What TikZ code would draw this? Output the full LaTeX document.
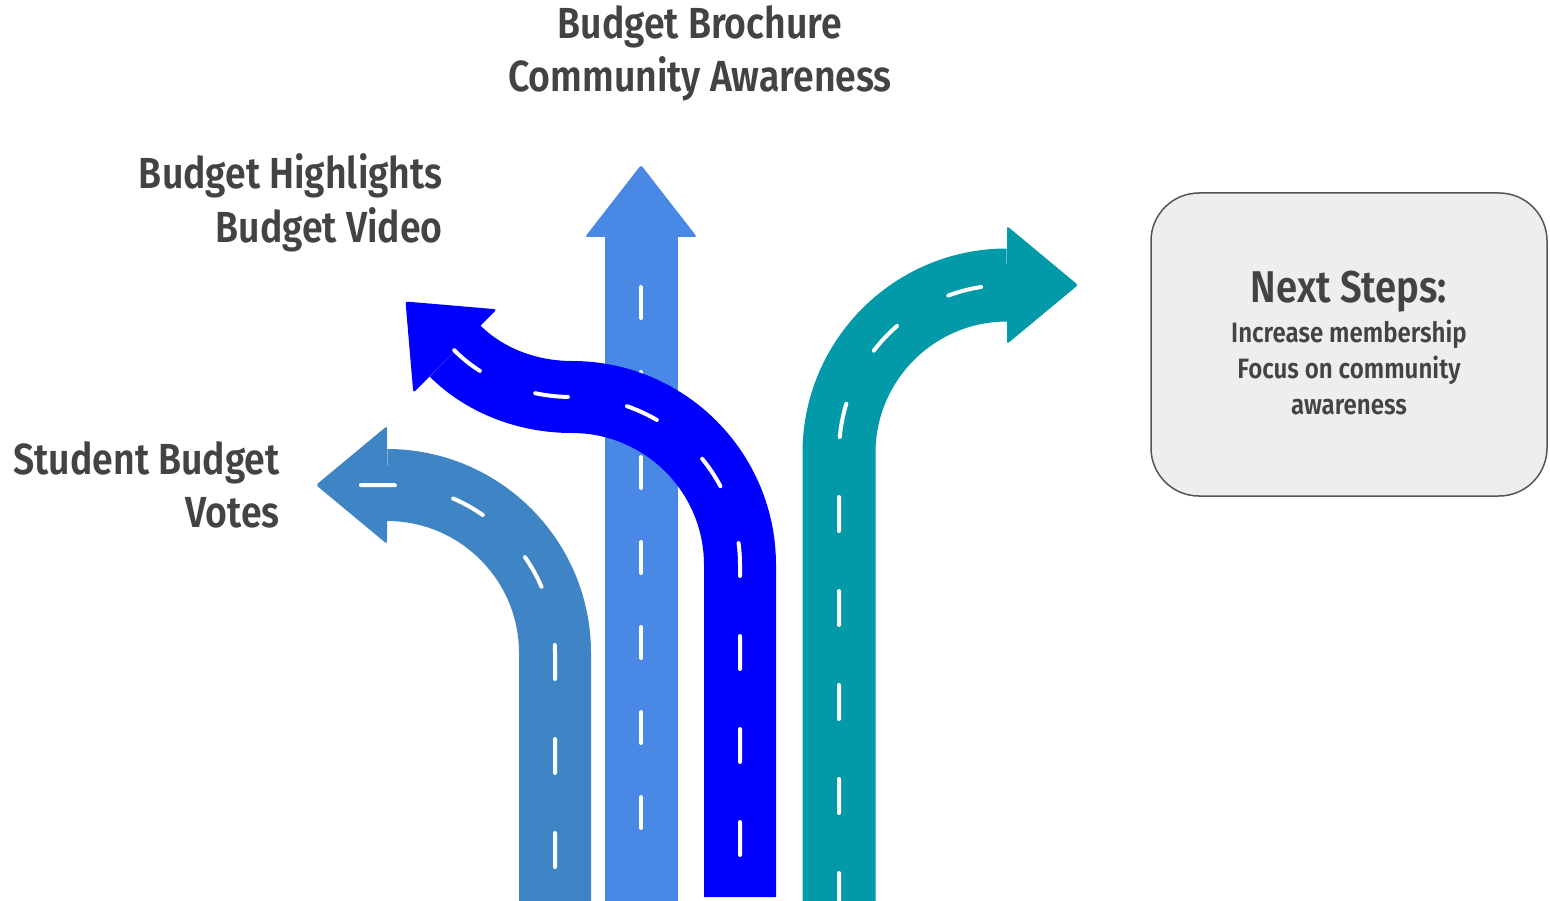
\documentclass[tikz,border=0pt]{standalone}
\usepackage{fontspec}
\setmainfont{Fira Sans}[FakeStretch=0.86,BoldFont={Fira Sans SemiBold}]
\definecolor{studentc}{RGB}{63,133,198}
\definecolor{brochc}{RGB}{74,136,229}
\definecolor{bluec}{RGB}{0,0,255}
\definecolor{tealc}{RGB}{2,153,168}
\definecolor{txtc}{RGB}{67,67,67}
\definecolor{boxfill}{RGB}{238,238,238}
\definecolor{boxline}{RGB}{85,85,85}
\begin{document}
\begin{tikzpicture}[x=1pt,y=-1pt,
  road/.style={line width=72pt,line cap=butt},
  lane/.style={white,line width=4pt,line cap=round},
  head/.style={rounded corners=2.5pt},
  lbl/.style={text=txtc,font=\fontsize{43.5}{53}\selectfont\bfseries,inner sep=0pt},
  body/.style={text=txtc,font=\fontsize{28}{36}\selectfont\bfseries,inner sep=0pt}]
\useasboundingbox (0,0) rectangle (1550,901);

% light blue straight road
\coordinate (bS) at (641,901);
\coordinate (bE) at (641,237);
\draw[road,brochc,line width=73pt] (bS) -- (bE);
\fill[brochc,head] (641,165) -- (697,237) -- (585,237) -- cycle;
\coordinate (bL1) at (641,828);
\coordinate (bL2) at (641,285);
\draw[lane,dash pattern=on 31pt off 54pt] (bL1) -- (bL2);

% student road
\coordinate (sS) at (555,901);
\coordinate (sA) at (555,653);
\coordinate (sE) at (387,485);
\coordinate (sX) at (350,485);
\draw[road,studentc] (sS) -- (sA) .. controls (555,560.2) and (479.8,485) .. (sE);
\fill[studentc,head] (316,485) -- (387,426) -- (387,544) -- cycle;
\draw[lane,dash pattern=on 34pt off 60pt,dash phase=60pt] (sS) -- (sA) .. controls (555,560.2) and (479.8,485) .. (sE) -- (sX);

% blue road
\coordinate (uS) at (740,897);
\coordinate (uA) at (740,565);
\coordinate (uB) at (572,397);
\coordinate (uE) at (455,351);
\coordinate (uX) at (444,340);
\draw[road,bluec] (uS) -- (uA) .. controls (740,472.2) and (664.8,397) .. (uB)
  .. controls (525,397) and (483,379) .. (uE);
\fill[bluec,head] (405.5,301.5) -- (496.7,309.3) -- (413.3,392.7) -- cycle;
\draw[lane,dash pattern=on 33pt off 60pt,dash phase=51pt] (uS) -- (uA) .. controls (740,472.2) and (664.8,397) .. (uB)
  .. controls (525,397) and (483,379) .. (uE) -- (uX);

% teal road
\coordinate (tS) at (839,901);
\coordinate (tA) at (839,453);
\coordinate (tE) at (1007,285);
\draw[road,tealc,line width=73pt] (tS) -- (tA) .. controls (839,360.2) and (914.2,285) .. (tE);
\fill[tealc,head] (1078,285) -- (1007,344) -- (1007,226) -- cycle;
\draw[lane,dash pattern=on 34pt off 60pt,dash phase=6pt] (tS) -- (tA) .. controls (839,360.2) and (914.2,285) .. (tE);

% labels
\node[lbl,anchor=base] (br1) at (700,39) {Budget Brochure};
\node[lbl,anchor=base] (br2) at (700,92) {Community Awareness};
\node[lbl,anchor=base east] (hl1) at (443,189) {Budget Highlights};
\node[lbl,anchor=base east] (hl2) at (443,243) {Budget Video};
\node[lbl,anchor=base east] (sv1) at (280,474) {Student Budget};
\node[lbl,anchor=base east] (sv2) at (280,527) {Votes};

% next steps box
\node[draw=boxline,line width=1.5pt,fill=boxfill,rounded corners=48pt,minimum width=396pt,minimum height=303pt] (box) at (1349,344.5) {};
\node[text=txtc,font=\fontsize{44.5}{50}\selectfont\bfseries,inner sep=0pt,anchor=base] (ns) at (1349,303) {Next Steps:};
\node[body,anchor=base] (ns1) at (1349,342) {Increase membership};
\node[body,anchor=base] (ns2) at (1349,378) {Focus on community};
\node[body,anchor=base] (ns3) at (1349,414) {awareness};
\end{tikzpicture}
\end{document}
